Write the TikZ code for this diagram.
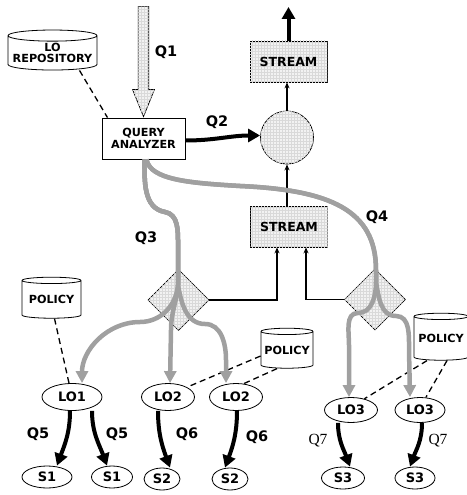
\documentclass[tikz,border=0pt]{standalone}
\usepackage{fontspec}
\setmainfont{DejaVu Sans}
\newfontfamily\serifQ{Liberation Serif}
\usetikzlibrary{shapes.geometric, shapes.arrows, arrows.meta, patterns}
\definecolor{qgray}{RGB}{160,160,160}
\tikzstyle{arrow} = [line width=1.2pt,-{Stealth[length=6pt,width=5pt]}]
\tikzstyle{thickArrow} = [line width=4pt,-{Triangle[length=12pt,width=13pt]}]
\tikzstyle{grayArrow} = [line width=4.5pt,draw=qgray,-{Triangle[length=12pt,width=12pt]}]
\tikzstyle{dashLine} = [line width=1.3pt,dash pattern=on 6pt off 4pt]
\tikzstyle{gridFill} = [fill=gray!10, postaction={pattern=grid, pattern color=gray!30}]
\tikzstyle{rec} = [rectangle, minimum width=83pt, minimum height=41pt, text centered, draw=black, fill=white, line width=0.8pt]
\tikzstyle{streamRec} = [rec, gridFill, minimum width=77pt, font=\fontsize{12.5}{13}\selectfont\bfseries]
\tikzstyle{db} = [cylinder, shape border rotate=90, aspect=0.14, draw=black, fill=white, line width=0.8pt, align=center, inner sep=0pt]
\tikzstyle{switch} = [diamond, minimum width=61pt, minimum height=61pt, inner sep=0pt, draw=black, gridFill, line width=0.8pt]
\tikzstyle{lo} = [ellipse, minimum width=53pt, minimum height=27pt, inner sep=0pt, draw=black, line width=0.8pt, font=\fontsize{13}{14}\selectfont\bfseries]
\tikzstyle{src} = [ellipse, minimum width=40pt, minimum height=22pt, inner sep=0pt, draw=black, line width=0.8pt, font=\fontsize{13}{14}\selectfont\bfseries]
\tikzstyle{qLabel} = [font=\fontsize{14.5}{15}\selectfont\bfseries]
\tikzstyle{qSerif} = [font=\serifQ\fontsize{15.5}{16}\selectfont]

\begin{document}
\begin{tikzpicture}[x=1pt, y=1pt, font=\fontsize{11.2}{11.5}\selectfont\bfseries, every text node part/.style={align=center}]
		\useasboundingbox (0,0) rectangle (466,-495);
		% query side
		\node (repo) [db, minimum width=89pt, minimum height=40pt] at (52.5,-53) {LO\\REPOSITORY};
		\node (qa) [rec] at (143.5,-138.5) {QUERY\\ANALYZER};
		\node (q1) [single arrow, rotate=-90, anchor=tip, minimum height=110pt, inner xsep=0pt, inner ysep=4.75pt, single arrow head extend=5.75pt, single arrow tip angle=44, draw=black, line width=0.8pt, gridFill] at (qa.north) {};
		\node (circ) [circle, minimum size=53pt, draw=black, line width=0.8pt, gridFill] at (287,-137.5) {};
		\node (stream1) [streamRec] at (288.5,-61.5) {STREAM};
		\node (stream2) [streamRec] at (289,-226.5) {STREAM};
		\coordinate (out) at (288.5,-7);
		% switches
		\node (dia1) [switch] at (178.5,-300) {};
		\node (dia2) [switch] at (375,-299.5) {};
		% policies
		\node (pol1) [db, minimum width=59pt, minimum height=41pt] at (51.5,-299.5) {POLICY};
		\node (pol2) [db, minimum width=52pt, minimum height=40pt] at (287,-350) {POLICY};
		\node (pol3) [db, minimum width=54pt, minimum height=47pt] at (441,-338.5) {POLICY};
		% learning objects and sources
		\node (lo1) [lo, minimum width=60pt] at (72,-397) {LO1};
		\node (lo2) [lo] at (168,-397) {LO2};
		\node (lo2b) [lo] at (236,-397) {LO2};
		\node (lo3) [lo, minimum height=25pt] at (351,-410) {LO3};
		\node (lo3b) [lo, minimum width=50pt, minimum height=25pt] at (420,-410) {LO3};
		\node (s1) [src, minimum width=50pt] at (47,-477) {S1};
		\node (s1b) [src, minimum width=41pt] at (112,-477) {S1};
		\node (s2) [src, minimum width=36pt] at (162,-479) {S2};
		\node (s2b) [src, minimum width=36pt] at (230,-479) {S2};
		\node (s3) [src, minimum width=43pt] at (343,-478) {S3};
		\node (s3b) [src] at (415,-478) {S3};
		% labels
		\node (lblQ1) [qLabel] at (166,-52) {Q1};
		\node (lblQ2) [qLabel] at (217,-122) {Q2};
		\node (lblQ3) [qLabel] at (146,-238) {Q3};
		\node (lblQ4) [qLabel] at (377,-217) {Q4};
		\node (lblQ5) [qLabel] at (38,-434) {Q5};
		\node (lblQ5b) [qLabel] at (117,-434) {Q5};
		\node (lblQ6) [qLabel] at (187,-434) {Q6};
		\node (lblQ6b) [qLabel] at (257,-437) {Q6};
		\node (lblQ7) [qSerif] at (318,-441) {Q7};
		\node (lblQ7b) [qSerif] at (438,-441) {Q7};
		% stream wiring
		\draw [arrow] (circ.north) -- (circ.north |- stream1.south);
		\draw [thickArrow] (stream1.north) -- (out);
		\draw [arrow] (stream2.north -| circ) -- (circ.south);
		\draw [arrow] (dia1.east) -| ([xshift=-12pt]stream2.south);
		\draw [arrow] (dia2.west) -| ([xshift=17pt]stream2.south);
		\draw [thickArrow] ([yshift=-2pt]qa.east) to[out=0,in=180] ([yshift=2pt]circ.west);
		% policy links
		\draw [dashLine] ([xshift=27pt]repo.south) -- ([xshift=-36pt]qa.north);
		\draw [dashLine] ([xshift=3pt]pol1.south) -- ([xshift=-3pt]lo1.north);
		\draw [dashLine] ([yshift=-6pt]pol2.west) -- (lo2.north east);
		\draw [dashLine] ([xshift=-10pt]pol2.south) -- (lo2b.60);
		\draw [dashLine] ([xshift=-14pt]pol3.south) -- (lo3.40);
		\draw [dashLine] ([xshift=6pt]pol3.south) -- (lo3b.65);
		% Q3 and Q4
		\draw [grayArrow] ([xshift=1pt]qa.south) to[out=-90,in=170] (165,-212) to[out=-10,in=90] (178,-245) -- (178,-285) to[out=-95,in=0] (140,-322) to[out=180,in=90] ([xshift=10pt]lo1.north);
		\draw [grayArrow] ([xshift=1pt]qa.south) to[out=-90,in=170] (165,-212) to[out=-10,in=90] (178,-245) -- (178,-285) to[out=-95,in=90] (171,-330) -- ([xshift=2pt]lo2.north);
		\draw [grayArrow] ([xshift=1pt]qa.south) to[out=-90,in=170] (165,-212) to[out=-10,in=90] (178,-245) -- (178,-285) to[out=-80,in=180] (205,-324) to[out=0,in=90] (226,-360) -- ([xshift=-10pt]lo2b.north);
		\draw [grayArrow] ([xshift=3pt]qa.south) .. controls (150,-180) and (190,-183) .. (240,-186) .. controls (330,-190) and (376,-210) .. (376,-270) -- (376,-282) to[out=-90,in=0] (358,-313) to[out=180,in=90] (349,-345) -- ([xshift=-2pt]lo3.north);
		\draw [grayArrow] ([xshift=3pt]qa.south) .. controls (150,-180) and (190,-183) .. (240,-186) .. controls (330,-190) and (376,-210) .. (376,-270) -- (376,-282) to[out=-80,in=180] (396,-316) to[out=0,in=90] (409,-350) -- ([xshift=-10pt]lo3b.north);
		% sources
		\draw [thickArrow] ([xshift=-2pt]lo1.south) to[out=-90,in=70] ([xshift=10pt]s1.north);
		\draw [thickArrow] ([xshift=20pt]lo1.south) to[out=-90,in=110] ([xshift=-5pt]s1b.north);
		\draw [thickArrow] ([xshift=-10pt]lo2.south) to[out=-90,in=110] ([xshift=8pt]s2.north);
		\draw [thickArrow] ([xshift=1pt]lo2b.south) to[out=-90,in=70] ([xshift=-5pt]s2b.north);
		\draw [thickArrow] ([xshift=-13pt]lo3.south) to[out=-90,in=110] ([xshift=7pt]s3.north);
		\draw [thickArrow] ([xshift=2pt]lo3b.south) to[out=-90,in=70] ([xshift=-5pt]s3b.north);
	\end{tikzpicture}
\end{document}
